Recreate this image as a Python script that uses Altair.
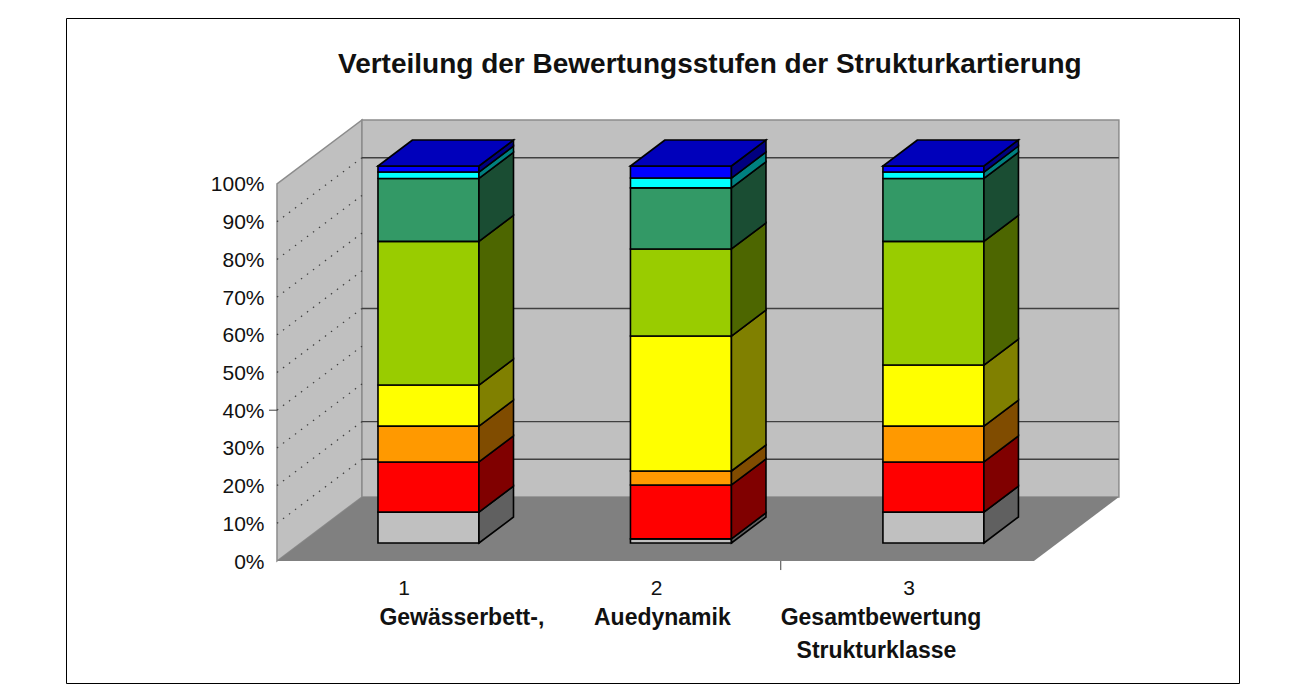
import altair as alt
import pandas as pd

TITLE = "Verteilung der Bewertungsstufen der Strukturkartierung"
CATEGORIES = [1, 2, 3]
PERCENT_TICKS = [0, 10, 20, 30, 40, 50, 60, 70, 80, 90, 100]
SERIES = ["Stufe 1", "Stufe 2", "Stufe 3", "Stufe 4", "Stufe 5", "Stufe 6", "Stufe 7", "Stufe 8"]
# share of each rating level per category (bottom to top)
BAR_1 = [8.2, 13.3, 9.5, 10.9, 38.1, 16.7, 1.7, 1.6]
BAR_2 = [1.1, 14.3, 3.7, 35.8, 23.1, 16.2, 2.6, 3.2]
BAR_3 = [8.2, 13.3, 9.5, 16.2, 32.8, 16.7, 1.7, 1.6]
BARS = [BAR_1, BAR_2, BAR_3]
FRONT = ["#c0c0c0", "#ff0000", "#ff9900", "#ffff00", "#99cc00", "#339966", "#00ffff", "#0000ff"]
SIDE = ["#606060", "#800000", "#804c00", "#808000", "#4d6600", "#1a4d33", "#008080", "#000080"]
TOP = "#0000bb"
VISIBLE_GRID = [10, 20, 50, 90]
DOTTED_GRID = [10, 20, 30, 40, 50, 60, 70, 80, 90]
LABELS = [("Gewässerbett-,", 1.227, -15.2), ("Auedynamik", 2.021, -15.2),
          ("Gesamtbewertung", 2.887, -15.2), ("Strukturklasse", 2.869, -23.8)]

# 3-D projection: one depth unit shifts right and upward in data units
PX_X, PX_Y = 252.5, 3.77
DX, DY = 85 / PX_X, 64 / PX_Y
X_DOM = [-0.341, 4.305]
Y_DOM = [-32.36, 144.03]
PLANE_L, PLANE_R = 0.4947, 3.4927
D0, D1 = 18 / 64, 44 / 64
HALF = 50.5 / PX_X

xs = alt.Scale(domain=X_DOM, nice=False, zero=False)
ys = alt.Scale(domain=Y_DOM, nice=False, zero=False)
X = lambda f="x", **k: alt.X(f"{f}:Q", scale=xs, title=None, **k)
Y = lambda f="y", **k: alt.Y(f"{f}:Q", scale=ys, title=None, **k)

WALL, FLOOR = "wall", "floor"
keys = [WALL, FLOOR, "top"] + [s + " front" for s in SERIES] + [s + " side" for s in SERIES]
cols = ["#c0c0c0", "#808080", TOP] + FRONT + SIDE
color = alt.Color("key:N", scale=alt.Scale(domain=keys, range=cols), legend=None)

vert, horiz = [], []
# walls
for d in (0, 1):
    vert.append(dict(id="left", key=WALL, x=PLANE_L + d * DX, y=d * DY, y2=100 + d * DY))
for xx in (PLANE_L + DX, PLANE_R + DX):
    vert.append(dict(id="back", key=WALL, x=xx, y=DY, y2=100 + DY))
# floor
floor = []
for d in (0, 1):
    floor.append(dict(id="floor", key=FLOOR, y=d * DY, x=PLANE_L + d * DX, x2=PLANE_R + d * DX))

bars_v = []
for c, vals in zip(CATEGORIES, BARS):
    lo = 0.0
    for s, v in zip(SERIES, vals):
        hi = lo + v
        fid = f"{c}{s}f"
        for sign in (-1, 1):
            bars_v.append(dict(id=fid, key=s + " front", x=c + sign * HALF + D0 * DX, y=lo + D0 * DY, y2=hi + D0 * DY))
        sid = f"{c}{s}s"
        for d in (D0, D1):
            bars_v.append(dict(id=sid, key=s + " side", x=c + HALF + d * DX, y=lo + d * DY, y2=hi + d * DY))
        lo = hi
    for d in (D0, D1):
        horiz.append(dict(id=f"{c}top", key="top", y=lo + d * DY, x=c - HALF + d * DX, x2=c + HALF + d * DX))

walls = alt.Chart(pd.DataFrame(vert)).mark_area(stroke="#8c8c8c", strokeWidth=1.5).encode(
    x=X(axis=alt.Axis(values=CATEGORIES, format="d", domain=False, ticks=False, grid=False, offset=-122,
                      labelPadding=16, labelFontSize=21, labelFont="Liberation Sans", labelColor="#111111", labelOffset=-1)),
    y=Y(axis=alt.Axis(values=PERCENT_TICKS, labelExpr="datum.value + '%'", domain=False, ticks=False, grid=False,
                      offset=-211, labelPadding=13, labelFontSize=21, labelFont="Liberation Sans", labelColor="#111111",
                      labelOffset=1)),
    y2="y2:Q", color=color, detail="id:N")

floor_l = alt.Chart(pd.DataFrame(floor)).mark_area(orient="horizontal").encode(
    y=Y(), x=X(), x2="x2:Q", color=color, detail="id:N")

grid_df = pd.DataFrame(dict(y=[p + DY for p in VISIBLE_GRID], x=[PLANE_L + DX] * 4, x2=[PLANE_R + DX] * 4))
grid = alt.Chart(grid_df).mark_rule(color="#404040", strokeWidth=1.4).encode(x=X(), x2="x2:Q", y=Y())

dots = []
for p in DOTTED_GRID:
    for d in (0, 1):
        dots.append(dict(id=p, x=PLANE_L + d * DX, y=p + d * DY))
dotted = alt.Chart(pd.DataFrame(dots)).mark_line(color="#404040", strokeWidth=1.2, strokeDash=[1.5, 6]).encode(
    x=X(), y=Y(), detail="id:N")

bars = alt.Chart(pd.DataFrame(bars_v)).mark_area(stroke="black", strokeWidth=1.6, strokeJoin="miter").encode(
    x=X(), y=Y(), y2="y2:Q", color=color, detail="id:N")
tops = alt.Chart(pd.DataFrame(horiz)).mark_area(orient="horizontal", stroke="black", strokeWidth=1.6).encode(
    y=Y(), x=X(), x2="x2:Q", color=color, detail="id:N")

ticks_df = pd.DataFrame(dict(x=[2.49], y=[0], y2=[-2.4]))
tick_x = alt.Chart(ticks_df).mark_rule(color="#404040").encode(x=X(), y=Y(), y2="y2:Q")
tick_y = alt.Chart(pd.DataFrame(dict(x=[PLANE_L - 8 / PX_X], x2=[PLANE_L], y=[40]))).mark_rule(color="#404040").encode(
    x=X(), x2="x2:Q", y=Y())

text = alt.Chart(pd.DataFrame(LABELS, columns=["t", "x", "y"])).mark_text(
    font="Liberation Sans", fontWeight="bold", fontSize=23, color="#111111").encode(x=X(), y=Y(), text="t:N")

chart = alt.layer(walls, floor_l, grid, dotted, tick_x, tick_y, bars, tops, text).properties(
    width=1173, height=665, background="white",
    padding={"left": 58, "top": 10, "right": 4, "bottom": 4},
    title=alt.TitleParams(TITLE, anchor="start", dx=272, offset=-61, fontSize=28, fontWeight="bold",
                          font="Liberation Sans", color="#111111"),
).configure_view(stroke="black", strokeWidth=1)

chart.save("out.html", embed_options={"renderer": "svg", "actions": False})
